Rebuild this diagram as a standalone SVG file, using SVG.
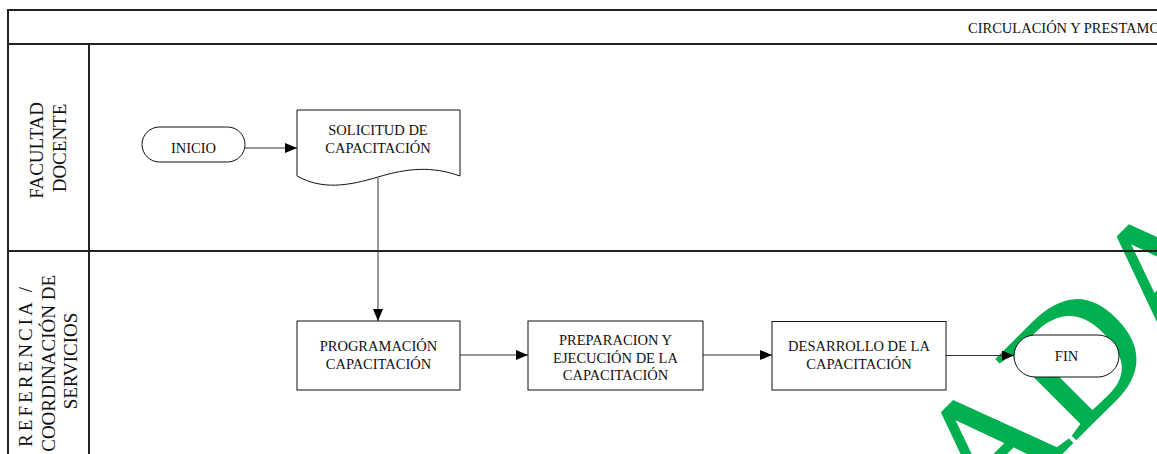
<svg xmlns="http://www.w3.org/2000/svg" width="1157" height="454" viewBox="0 0 1157 454">
  <defs>
    <style>
      text { font-family: "Liberation Serif", "Times New Roman", serif; fill: #111; }
      .lbl { font-size: 14.5px; text-anchor: middle; }
      .lane { font-size: 19px; text-anchor: middle; }
      .lane.start { text-anchor: start; }
      .hdr { font-size: 14.5px; }
      .frame { fill: none; stroke: #222; stroke-width: 2; }
      .shape { fill: #fff; stroke: #111; stroke-width: 1; }
      .conn { fill: none; stroke: #333; stroke-width: 1; marker-end: url(#arrow); }
      .stamp { font-size: 172px; fill: #00B050; stroke: #00B050; stroke-width: 2; }
    </style>
    <marker id="arrow" viewBox="0 0 12 10" refX="12" refY="5" markerWidth="12" markerHeight="10" markerUnits="userSpaceOnUse" orient="auto">
      <path d="M0,0 L12,5 L0,10 Z" fill="#000"/>
    </marker>
  </defs>

  <rect width="1157" height="454" fill="#fff"/>

  <!-- green stamp behind the flow -->
  <g id="stamp">
    <text class="stamp" x="985" y="530" transform="rotate(-45 985 530)">ADA</text>
  </g>

  <!-- pool frame, header and lanes -->
  <g id="pool">
    <path class="frame" d="M8,454 V10 H1160"/>
    <line class="frame" x1="8" y1="44" x2="1160" y2="44"/>
    <line class="frame" x1="8" y1="251" x2="1160" y2="251"/>
    <line class="frame" x1="89" y1="44" x2="89" y2="454" stroke-width="1.5"/>
    <text class="hdr" x="968" y="33">CIRCULACIÓN Y PRESTAMO</text>
  </g>

  <g id="lane-facultad">
    <text class="lane" transform="rotate(-90)">
      <tspan x="-148" y="43">FACULTAD</tspan>
      <tspan x="-148" y="66">DOCENTE</tspan>
    </text>
  </g>

  <g id="lane-referencia">
    <text class="lane start" transform="rotate(-90)" x="-447" y="32" textLength="160" lengthAdjust="spacing">REFERENCIA /</text>
    <text class="lane" transform="rotate(-90)">
      <tspan x="-361" y="54.5">COORDINACIÓN DE</tspan>
      <tspan x="-361" y="76.5">SERVICIOS</tspan>
    </text>
  </g>

  <!-- connectors -->
  <g id="connectors">
    <line class="conn" x1="245" y1="148" x2="297" y2="148"/>
    <line class="conn" x1="378" y1="178" x2="378" y2="321"/>
    <line class="conn" x1="460" y1="355" x2="528" y2="355"/>
    <line class="conn" x1="703" y1="355" x2="772" y2="355"/>
    <line class="conn" x1="946" y1="355.5" x2="1014" y2="355.5"/>
  </g>

  <g id="inicio">
    <rect class="shape" x="142" y="127" width="103" height="35" rx="17.5"/>
    <text class="lbl" x="193.5" y="153">INICIO</text>
  </g>

  <g id="solicitud">
    <path class="shape" d="M297,110 H460 V176 C432,166 408,168 378,177 C348,186 322,190 297,176 Z"/>
    <text class="lbl"><tspan x="378" y="135">SOLICITUD DE</tspan><tspan x="378" y="152.5">CAPACITACIÓN</tspan></text>
  </g>

  <g id="programacion">
    <rect class="shape" x="297" y="321" width="163" height="69"/>
    <text class="lbl"><tspan x="378.5" y="351">PROGRAMACIÓN</tspan><tspan x="378.5" y="368.5">CAPACITACIÓN</tspan></text>
  </g>

  <g id="preparacion">
    <rect class="shape" x="528" y="321" width="175" height="69"/>
    <text class="lbl"><tspan x="615.5" y="345">PREPARACION Y</tspan><tspan x="615.5" y="362.5">EJECUCIÓN DE LA</tspan><tspan x="615.5" y="380">CAPACITACIÓN</tspan></text>
  </g>

  <g id="desarrollo">
    <rect class="shape" x="772" y="321.5" width="174" height="68.5"/>
    <text class="lbl"><tspan x="859" y="351">DESARROLLO DE LA</tspan><tspan x="859" y="369">CAPACITACIÓN</tspan></text>
  </g>

  <g id="fin">
    <rect class="shape" x="1014" y="335" width="105" height="42" rx="21"/>
    <text class="lbl" x="1066.5" y="361">FIN</text>
  </g>
</svg>
